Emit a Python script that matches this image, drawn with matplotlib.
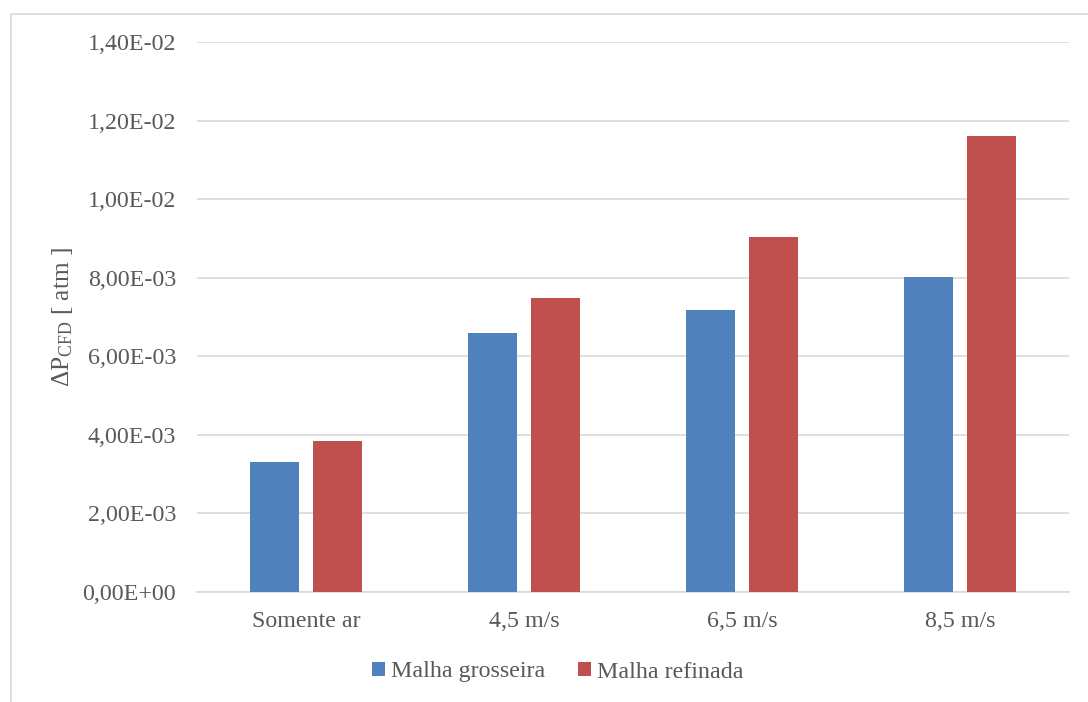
import matplotlib
matplotlib.use("Agg")
import matplotlib.pyplot as plt
import numpy as np
from matplotlib.patches import Rectangle
from matplotlib.ticker import FixedLocator

categories = ["Somente ar", "4,5 m/s", "6,5 m/s", "8,5 m/s"]
grosseira = [0.00330, 0.00659, 0.00717, 0.00801]
refinada = [0.00384, 0.00748, 0.00904, 0.01160]
series_names = ["Malha grosseira", "Malha refinada"]
yticks = [0.0, 0.002, 0.004, 0.006, 0.008, 0.010, 0.012, 0.014]
ytick_labels = ["0,00E+00", "2,00E-03", "4,00E-03", "6,00E-03", "8,00E-03",
                "1,00E-02", "1,20E-02", "1,40E-02"]

plt.rcParams['font.family'] = ['Liberation Serif', 'DejaVu Serif']
plt.rcParams['mathtext.fontset'] = 'custom'
plt.rcParams['mathtext.rm'] = 'Liberation Serif'
plt.rcParams['mathtext.it'] = 'Liberation Serif'

TXT = '#595959'
GRID = '#d9d9d9'
BLUE = '#4F81BD'
RED = '#C0504D'
FS = 17.3

fig = plt.figure(figsize=(10.88, 7.02), dpi=100)
fig.patch.set_facecolor('white')
# chart border
fig.patches.append(Rectangle((10.5/1088, -0.1), 1.2, (702-13.5)/702 + 0.1,
                             transform=fig.transFigure, fill=False,
                             edgecolor=GRID, linewidth=1.2))

ax = fig.add_axes([197/1088, 1-592/702, 872/1088, 550/702])
x = np.arange(len(categories))
w = 0.225
off = 0.143
ax.bar(x - off, grosseira, width=w, color=BLUE, label=series_names[0], zorder=3)
ax.bar(x + off, refinada, width=w, color=RED, label=series_names[1], zorder=3)

ax.set_xlim(-0.5, len(categories) - 0.5)
ax.set_ylim(0, 0.014)
ax.yaxis.set_major_locator(FixedLocator(yticks))
ax.set_yticklabels(ytick_labels)
ax.set_xticks(x)
ax.set_xticklabels(categories)
ax.tick_params(axis='both', length=0, labelsize=FS, labelcolor=TXT)
ax.tick_params(axis='y', pad=15)
ax.tick_params(axis='x', pad=14)
ax.grid(axis='y', color=GRID, linewidth=1.2, zorder=0)
ax.set_axisbelow(True)
for s in ['top', 'right', 'left']:
    ax.spines[s].set_visible(False)
ax.spines['bottom'].set_color(GRID)
ax.spines['bottom'].set_linewidth(1.2)

ax.set_ylabel(r'ΔP$_{\mathrm{CFD}}$ [ atm ]', fontsize=FS + 1.0, color=TXT)
ax.yaxis.set_label_coords((75 - 197) / 872, 0.5)

leg = fig.legend(loc='center', bbox_to_anchor=(558/1088, 1 - 672/702), ncol=2,
                 frameon=False, fontsize=FS, handlelength=0.55, handleheight=0.55,
                 handletextpad=0.25, columnspacing=1.35, labelcolor=TXT)

fig.savefig('out.png', dpi=100, facecolor='white')
